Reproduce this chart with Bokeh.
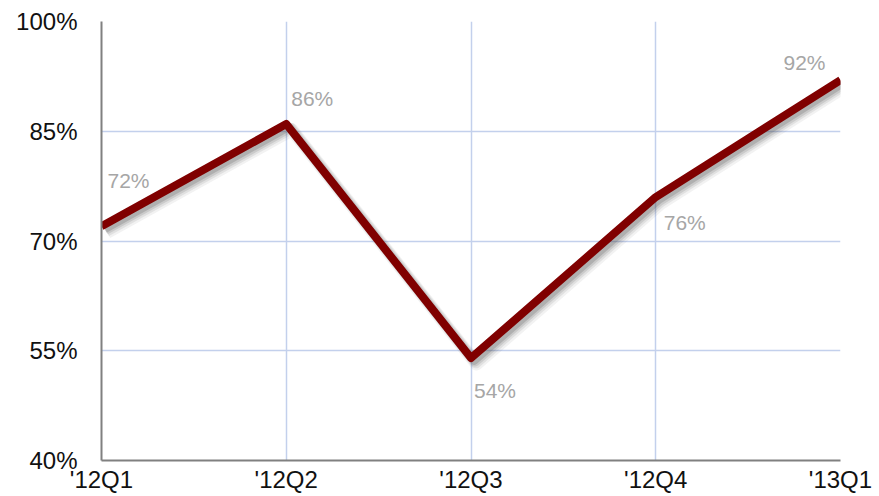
from bokeh.plotting import figure
from bokeh.models import ColumnDataSource, Range1d, FixedTicker, LabelSet
from bokeh.transform import dodge
from bokeh.core.properties import value
from bokeh.embed import file_html
from bokeh.resources import INLINE

quarters = ["'12Q1", "'12Q2", "'12Q3", "'12Q4", "'13Q1"]
values = [72, 86, 54, 76, 92]
y_ticks = [40, 55, 70, 85, 100]
y_tick_labels = ["40%", "55%", "70%", "85%", "100%"]

# label placement styling (screen px)
label_dx = [6, 5, 3, 8, -57]
label_dy = [46, 25, -32, -25, 18]

xs = list(range(len(quarters)))
src = ColumnDataSource(dict(
    x=xs, y=values, txt=[f"{v}%" for v in values],
    dx=label_dx, dy=label_dy,
))

p = figure(width=878, height=495, output_backend="svg", toolbar_location=None,
           x_range=Range1d(0, len(quarters) - 1), y_range=Range1d(40, 100),
           min_border_left=101, min_border_right=38, min_border_top=21, min_border_bottom=30)
p.outline_line_color = None
p.background_fill_color = "white"
p.border_fill_color = "white"

for ax, ticks in ((p.xaxis, xs), (p.yaxis, y_ticks)):
    ax.ticker = FixedTicker(ticks=ticks)
    ax.axis_line_color = "#808080"
    ax.axis_line_width = 2
    ax.major_tick_line_color = None
    ax.minor_tick_line_color = None
    ax.major_tick_out = 0
    ax.major_tick_in = 0
    ax.major_label_text_font = "Liberation Sans"
    ax.major_label_text_font_size = "24px"
    ax.major_label_text_line_height = 1.0
    ax.major_label_text_color = "#111111"
p.xaxis.major_label_overrides = {i: q for i, q in enumerate(quarters)}
p.yaxis.major_label_overrides = {t: l for t, l in zip(y_ticks, y_tick_labels)}
p.xaxis.major_label_standoff = 5
p.yaxis.major_label_standoff = 24

p.xgrid.ticker = FixedTicker(ticks=xs)
p.ygrid.ticker = FixedTicker(ticks=y_ticks)
p.grid.grid_line_color = "#c3d0ec"
p.grid.grid_line_width = 1.5

# soft drop shadow
for dxs, dys, w, a in ((0.03, -0.8, 13, 0.07), (0.026, -0.65, 11, 0.10),
                       (0.022, -0.55, 9, 0.14), (0.018, -0.45, 7, 0.2)):
    p.line(x=dodge("x", dxs), y=dodge("y", dys), source=src, line_color="#444444",
           line_width=w, line_alpha=a, line_join="round")

p.line(x="x", y="y", source=src, line_color="#800000", line_width=8, line_join="round")

labels = LabelSet(x="x", y="y", text="txt", x_offset="dx", y_offset="dy", source=src,
                  text_font=value("Liberation Sans"), text_font_size=value("21px"),
                  text_color="#a6a6a6", text_align="left", text_baseline="middle")
p.add_layout(labels)

open("out.html", "w").write(file_html(p, INLINE))
